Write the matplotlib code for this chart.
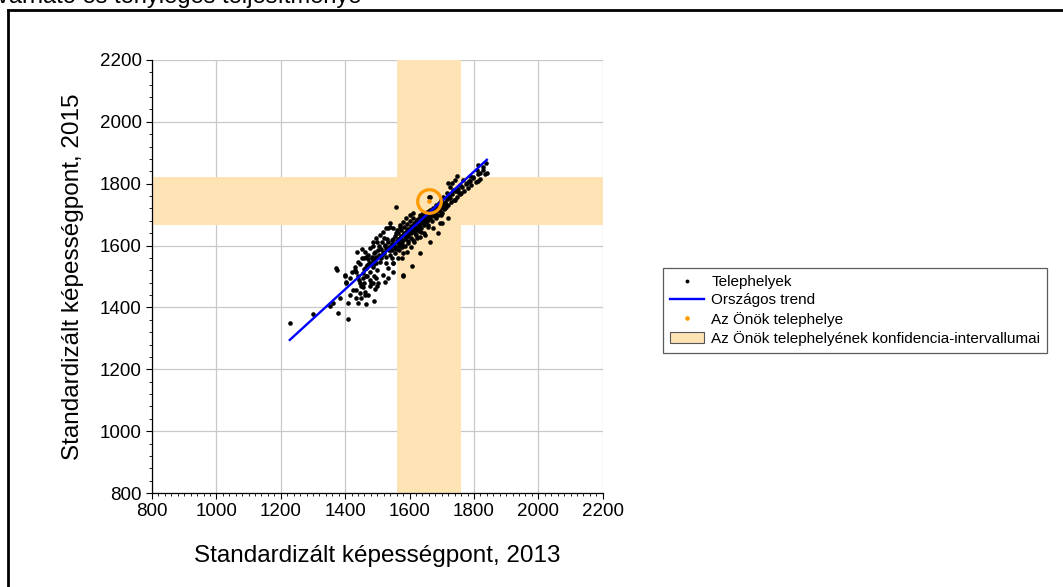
import numpy as np
import matplotlib
matplotlib.use('Agg')
import matplotlib.pyplot as plt
from matplotlib.lines import Line2D
from matplotlib.patches import Patch

plt.rcParams['font.family'] = ['Liberation Sans', 'DejaVu Sans']

# telephelyek (2013, 2015)
site_x = [1228, 1301, 1352, 1363, 1378, 1409, 1384, 1404, 1415, 1409, 1440, 1435, 1425, 1446,
          1461, 1456, 1446, 1466, 1399, 1376, 1373, 1399, 1404, 1420, 1430, 1440, 1451, 1461,
          1466, 1477, 1487, 1497, 1508, 1518, 1528, 1539, 1549, 1559, 1570, 1575, 1580, 1565,
          1549, 1534, 1518, 1497, 1477, 1456, 1435, 1508, 1528, 1487, 1466, 1482, 1503, 1523,
          1544, 1554, 1539, 1523, 1503, 1534, 1487, 1580, 1549, 1415,
          1430, 1435, 1440, 1445, 1448, 1450, 1455, 1458, 1460, 1462, 1465, 1468, 1470, 1472,
          1475, 1478, 1480, 1482, 1485, 1487, 1490, 1492, 1494, 1496, 1498, 1500, 1438, 1452,
          1466, 1476, 1488, 1500, 1444, 1484,
          1559, 1580, 1633, 1609, 1702,
          1661, 1663, 1689, 1699, 1709, 1720, 1694, 1673, 1632, 1622, 1642, 1658, 1673, 1689,
          1632, 1616, 1601, 1585, 1539, 1534, 1570, 1663, 1647, 1611, 1596, 1565, 1554,
          1837, 1841, 1827, 1813, 1818, 1808, 1797, 1813, 1787, 1777, 1767, 1756, 1746, 1741,
          1733, 1725, 1720, 1735, 1751, 1761, 1715, 1704, 1725, 1741, 1709, 1699, 1787,
          1542, 1545, 1548, 1552, 1555, 1558, 1562, 1565, 1568, 1571, 1574, 1577, 1580, 1583,
          1586, 1589, 1592, 1595, 1598, 1601, 1604, 1607, 1610, 1613, 1616, 1619, 1622, 1625,
          1628, 1631, 1634, 1637, 1640, 1643, 1646, 1649, 1652, 1655, 1658, 1661, 1664, 1667,
          1670, 1673, 1676, 1679, 1682, 1685, 1688, 1691, 1694, 1697, 1700, 1703, 1706, 1710,
          1713, 1716, 1720, 1724, 1728, 1732, 1737, 1742, 1747, 1752, 1757, 1762, 1768, 1774,
          1780, 1786, 1792, 1798, 1805, 1812, 1820, 1828, 1835,
          1510, 1515, 1520, 1525, 1530, 1535, 1520, 1505, 1495, 1512, 1528, 1538, 1546, 1556,
          1566, 1576, 1586, 1596, 1606, 1616, 1626, 1636, 1646, 1656, 1592, 1604, 1614, 1624,
          1560, 1570, 1580, 1590, 1600, 1612, 1550, 1575,
          1563, 1573, 1583, 1593, 1603, 1613, 1623, 1633, 1643, 1653, 1663, 1673, 1683, 1693,
          1567, 1578, 1588, 1598, 1608, 1618, 1628, 1638, 1648, 1658, 1668, 1678, 1688, 1698,
          1544, 1536, 1526, 1516, 1506, 1496, 1486, 1476, 1468, 1458, 1470, 1490, 1515, 1532]
site_y = [1349, 1378, 1403, 1413, 1383, 1361, 1430, 1478, 1440, 1413, 1413, 1430, 1456, 1446,
          1440, 1467, 1478, 1500, 1505, 1521, 1527, 1500, 1483, 1516, 1532, 1548, 1559, 1580,
          1564, 1591, 1613, 1624, 1634, 1645, 1656, 1661, 1656, 1640, 1624, 1602, 1575, 1559,
          1543, 1527, 1505, 1494, 1489, 1494, 1516, 1548, 1564, 1537, 1527, 1564, 1586, 1602,
          1618, 1596, 1586, 1483, 1478, 1494, 1478, 1505, 1516, 1494,
          1520, 1455, 1500, 1540, 1470, 1430, 1510, 1560, 1480, 1450, 1530, 1500, 1570, 1440,
          1545, 1515, 1480, 1560, 1600, 1530, 1500, 1460, 1580, 1545, 1520, 1610, 1580, 1590,
          1410, 1470, 1420, 1470, 1490, 1540,
          1726, 1502, 1575, 1534, 1674,
          1758, 1758, 1715, 1699, 1721, 1688, 1672, 1704, 1699, 1683, 1683, 1667, 1656, 1640,
          1629, 1650, 1645, 1634, 1672, 1656, 1661, 1613, 1634, 1618, 1607, 1613, 1596,
          1868, 1834, 1855, 1860, 1835, 1844, 1818, 1807, 1825, 1801, 1812, 1796, 1825, 1812,
          1801, 1790, 1801, 1780, 1774, 1769, 1769, 1758, 1753, 1748, 1737, 1748, 1807,
          1600, 1585, 1620, 1605, 1630, 1590, 1615, 1640, 1600, 1625, 1650, 1610, 1635, 1660,
          1620, 1645, 1670, 1630, 1655, 1680, 1640, 1662, 1690, 1650, 1672, 1635, 1660, 1685,
          1648, 1670, 1695, 1658, 1680, 1705, 1665, 1690, 1675, 1700, 1682, 1710, 1690, 1700,
          1680, 1715, 1695, 1705, 1690, 1720, 1700, 1730, 1712, 1725, 1705, 1735, 1718, 1740,
          1725, 1750, 1732, 1760, 1740, 1765, 1748, 1775, 1758, 1782, 1765, 1790, 1775, 1800,
          1785, 1810, 1795, 1820, 1805, 1830, 1815, 1845, 1830,
          1590, 1610, 1575, 1600, 1620, 1585, 1625, 1600, 1560, 1560, 1545, 1570, 1560, 1575,
          1585, 1595, 1600, 1615, 1625, 1640, 1655, 1645, 1640, 1660, 1580, 1595, 1610, 1625,
          1650, 1665, 1675, 1690, 1700, 1705, 1545, 1560,
          1622, 1632, 1642, 1652, 1662, 1672, 1682, 1692, 1700, 1708, 1715, 1722, 1730, 1738,
          1605, 1618, 1628, 1640, 1648, 1658, 1666, 1676, 1684, 1694, 1702, 1712, 1718, 1728,
          1605, 1595, 1588, 1578, 1570, 1562, 1552, 1545, 1536, 1525, 1555, 1575, 1570, 1612]

# országos trend
trend_x = [1228, 1840]
trend_y = [1295, 1877]

# Önök telephelye és konfidencia-intervallumai
own_x, own_y = 1661, 1745
ci_x = (1560, 1760)
ci_y = (1665, 1822)

band_color = '#FEE3B4'

fig = plt.figure(figsize=(10.63, 5.87), dpi=100)
ax = fig.add_axes([0.143, 0.160, 0.424, 0.738])

ax.axvspan(ci_x[0], ci_x[1], color=band_color, lw=0, zorder=1)
ax.axhspan(ci_y[0], ci_y[1], color=band_color, lw=0, zorder=1)

ax.plot(site_x, site_y, 'o', color='black', markersize=3.3, markeredgewidth=0, zorder=3)
ax.plot(trend_x, trend_y, color='#0000FF', lw=1.7, zorder=4)
ax.plot([own_x], [own_y], 'o', markersize=17, markerfacecolor='none',
        markeredgecolor='#FF9900', markeredgewidth=2.3, zorder=5)
ax.plot([own_x], [own_y], 'o', color='#FF9900', markersize=3.3, markeredgewidth=0, zorder=5)

ax.set_xlim(800, 2200)
ax.set_ylim(800, 2200)
ax.set_xticks(np.arange(800, 2201, 200))
ax.set_yticks(np.arange(800, 2201, 200))
ax.set_xticks(np.arange(800, 2201, 20), minor=True)
ax.set_yticks(np.arange(800, 2201, 40), minor=True)
ax.tick_params(axis='both', which='major', labelsize=13.5, length=4, width=0.8, direction='out')
ax.tick_params(axis='both', which='minor', length=2.5, width=0.6, direction='out')
ax.set_axisbelow(True)
ax.grid(True, which='major', color='#C8C8C8', lw=0.9)
ax.spines['top'].set_visible(False)
ax.spines['right'].set_visible(False)
ax.spines['left'].set_linewidth(0.9)
ax.spines['bottom'].set_linewidth(0.9)

ax.set_xlabel('Standardizált képességpont, 2013', fontsize=17.5, labelpad=18)
ax.set_ylabel('Standardizált képességpont, 2015', fontsize=17.5, labelpad=11)

handles = [
    Line2D([], [], ls='none', marker='o', color='black', markersize=2.8, markeredgewidth=0),
    Line2D([], [], color='#0000FF', lw=1.7),
    Line2D([], [], ls='none', marker='o', color='#FF9900', markersize=3.3, markeredgewidth=0),
    Patch(facecolor=band_color, edgecolor='#555555', lw=0.8),
]
labels = ['Telephelyek', 'Országos trend', 'Az Önök telephelye',
          'Az Önök telephelyének konfidencia-intervallumai']
leg = fig.legend(handles, labels, loc='upper left', bbox_to_anchor=(0.624, 0.543),
                 bbox_transform=fig.transFigure, fontsize=11, frameon=True, fancybox=False,
                 borderaxespad=0, handlelength=2.2, handletextpad=0.5, labelspacing=0.28,
                 borderpad=0.45)
leg.get_frame().set_edgecolor('#333333')
leg.get_frame().set_linewidth(0.9)

# keret és levágott cím
fig.add_artist(Line2D([7.5 / 1063, 1.01], [1 - 10 / 587, 1 - 10 / 587], color='black', lw=2,
                      transform=fig.transFigure))
fig.add_artist(Line2D([7.5 / 1063, 7.5 / 1063], [1 - 10 / 587, -0.01], color='black', lw=2,
                      transform=fig.transFigure))
fig.text(-0.003, 1 - 3 / 587, 'várható és tényleges teljesítménye', fontsize=17,
         ha='left', va='baseline')

fig.savefig('out.png', dpi=100)
